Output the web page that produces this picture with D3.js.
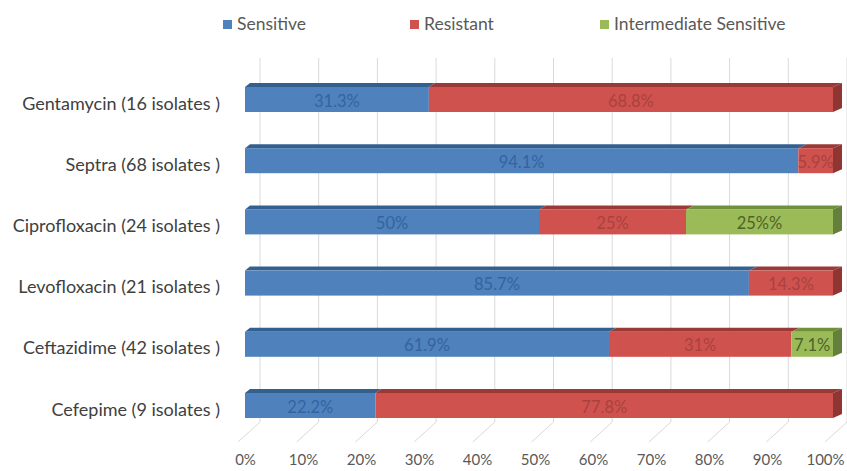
<!doctype html>
<html lang="en">
<head>
  <meta charset="utf-8">
  <title>Antibiotic susceptibility</title>
  <style>
    body { margin: 0; background: #fff; }
    svg { display: block; }
    text { font-family: Lato, "Open Sans", sans-serif; }
    .cat { font-size: 18px; fill: #404040; }
    .legend text { font-size: 17.5px; fill: #595959; }
    .axis text { font-size: 15px; fill: #595959; }
    .grid line { stroke: #d9d9d9; stroke-width: 1; }
  </style>
</head>
<body>
<script src="https://d3js.org/d3.v7.min.js"></script>
<script>
(function() {

var categories = ["Gentamycin (16 isolates )", "Septra (68 isolates )",
  "Ciprofloxacin (24  isolates )", "Levofloxacin (21 isolates )",
  "Ceftazidime (42 isolates )", "Cefepime (9 isolates )"];
var seriesNames = ["Sensitive", "Resistant", "Intermediate Sensitive"];
var sensitive = [31.3, 94.1, 50, 85.7, 61.9, 22.2];
var resistant = [68.8, 5.9, 25, 14.3, 31, 77.8];
var intermediate = [0, 0, 25, 0, 7.1, 0];
var sensitiveLabels = ["31.3%", "94.1%", "50%", "85.7%", "61.9%", "22.2%"];
var resistantLabels = ["68.8%", "5.9%", "25%", "14.3%", "31%", "77.8%"];
var intermediateLabels = ["", "", "25%%", "", "7.1%", ""];
var ticks = [0, 10, 20, 30, 40, 50, 60, 70, 80, 90, 100];

var colors = {
  face: ["#4f81bd", "#d0524e", "#9bbb59"],
  top: ["#34608f", "#9a3a37", "#71903c"],
  side: ["#315a88", "#8f3532", "#65803a"],
  label: ["#3464a0", "#a8423f", "#4f6228"]
};

var width = 847, height = 471;

var svg = d3.select("body").append("svg")
  .attr("width", width)
  .attr("height", height);

// front plane of the bars, back wall of the grid, floor edge of the axis
var x = d3.scaleLinear().domain([0, 100]).range([245, 833]);
var xBack = d3.scaleLinear().domain([0, 100]).range([260, 847]);
var xAxis = d3.scaleLinear().domain([0, 100]).range([245, 825]);
var y = d3.scalePoint().domain(categories).range([99.5, 405.5]);
var barH = 25;
var gridTop = 58, gridBottom = 422;

// depth of bar tops grows a bit to the right (perspective)
var depthX = d3.scaleLinear().domain([0, 100]).range([5, 9]);
var depthY = 4;

// grid: back wall verticals and floor diagonals
var grid = svg.append("g").attr("class", "grid");
grid.selectAll("line.v").data(ticks).enter().append("line")
  .attr("class", "v")
  .attr("x1", function(d) { return xBack(d); })
  .attr("x2", function(d) { return xBack(d); })
  .attr("y1", gridTop)
  .attr("y2", gridBottom);
grid.selectAll("line.d").data(ticks).enter().append("line")
  .attr("class", "d")
  .attr("x1", function(d) { return xBack(d); })
  .attr("x2", function(d) { return xBack(d) - 22; })
  .attr("y1", gridBottom)
  .attr("y2", gridBottom + 20);

// stack data
var rows = categories.map(function(c, i) {
  var vals = [sensitive[i], resistant[i], intermediate[i]];
  var labs = [sensitiveLabels[i], resistantLabels[i], intermediateLabels[i]];
  var total = d3.sum(vals);
  var acc = 0;
  var segs = vals.map(function(v, k) {
    var s = { key: k, x0: acc / total * 100, x1: (acc + v) / total * 100, label: labs[k], cat: c };
    acc += v;
    return s;
  }).filter(function(s) { return s.x1 > s.x0; });
  return { cat: c, segs: segs };
});

var bars = svg.append("g").selectAll("g.row").data(rows).enter().append("g")
  .attr("class", "row");

bars.each(function(r) {
  var g = d3.select(this);
  var yt = y(r.cat) - barH / 2;
  var last = r.segs[r.segs.length - 1];

  r.segs.forEach(function(s) {
    var a = x(s.x0), b = x(s.x1);
    // top face
    g.append("path")
      .attr("d", "M" + a + "," + yt + "L" + b + "," + yt +
        "L" + (b + depthX(s.x1)) + "," + (yt - depthY) +
        "L" + (a + depthX(s.x0)) + "," + (yt - depthY) + "Z")
      .attr("fill", colors.top[s.key]);
    // front face
    g.append("rect")
      .attr("x", a)
      .attr("y", yt)
      .attr("width", b - a)
      .attr("height", barH)
      .attr("fill", colors.face[s.key]);
  });

  // right side face
  var e = x(last.x1), dx = depthX(last.x1);
  g.append("path")
    .attr("d", "M" + e + "," + yt + "L" + (e + dx) + "," + (yt - depthY) +
      "L" + (e + dx) + "," + (yt + barH - depthY) + "L" + e + "," + (yt + barH) + "Z")
    .attr("fill", colors.side[last.key]);

  g.selectAll("text").data(r.segs).enter().append("text")
    .attr("x", function(s) { return (x(s.x0) + x(s.x1)) / 2; })
    .attr("y", y(r.cat) + 7)
    .attr("text-anchor", "middle")
    .style("font-size", "16.5px")
    .style("fill", function(s) { return colors.label[s.key]; })
    .text(function(s) { return s.label; });
});

// category labels
svg.append("g").selectAll("text").data(categories).enter().append("text")
  .attr("class", "cat")
  .attr("x", 220)
  .attr("y", function(d) { return y(d) + 10; })
  .attr("text-anchor", "end")
  .text(function(d) { return d; });

// x axis labels
var axis = svg.append("g")
  .attr("class", "axis")
  .attr("transform", "translate(0," + 451 + ")")
  .call(d3.axisBottom(xAxis).tickValues(ticks).tickSize(0)
    .tickFormat(function(d) { return d + "%"; }));
axis.select(".domain").remove();
axis.selectAll("text").attr("dy", "0.71em").style("font-family", "Lato, sans-serif");

// legend
var legendX = [223, 410, 600];
var legend = svg.append("g").attr("class", "legend")
  .selectAll("g").data(seriesNames).enter().append("g")
  .attr("transform", function(d, i) { return "translate(" + legendX[i] + ",19)"; });
legend.append("rect")
  .attr("width", 9).attr("height", 9).attr("y", 1)
  .attr("fill", function(d, i) { return colors.face[i]; });
legend.append("text")
  .attr("x", 14)
  .attr("y", 11)
  .text(function(d) { return d; });

})();
</script>
</body>
</html>
